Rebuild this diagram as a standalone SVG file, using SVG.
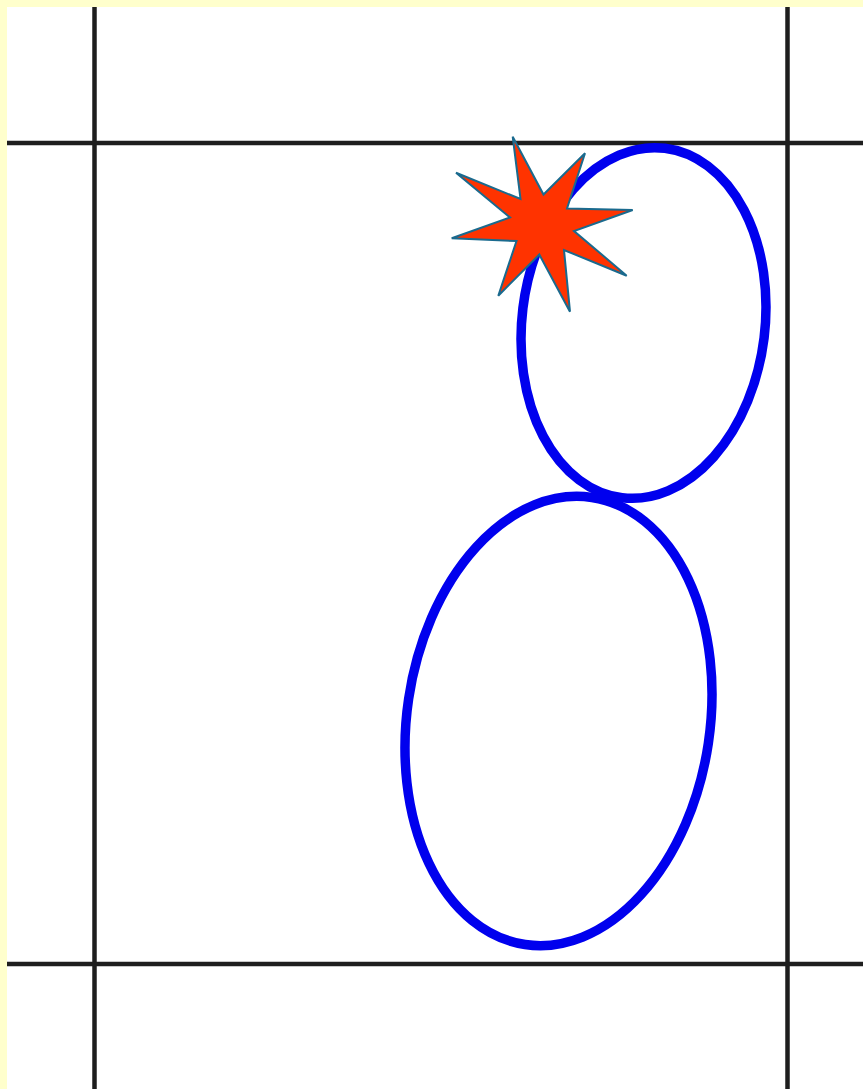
<svg xmlns="http://www.w3.org/2000/svg" width="863" height="1089" viewBox="0 0 863 1089">
<style>
.grid{stroke:#1e1e1e;stroke-width:4.5;fill:none}
.loop{fill:none;stroke:#0000ee;stroke-width:9.5}
.star{fill:#ff3300;stroke:#1a6a8e;stroke-width:2;stroke-linejoin:miter}
</style>
<rect x="0" y="0" width="863" height="1089" fill="#ffffcc"/>
<rect x="7" y="7" width="856" height="1082" fill="#ffffff"/>
<g id="grid">
<line class="grid" x1="94.5" y1="7" x2="94.5" y2="1089"/>
<line class="grid" x1="787.5" y1="7" x2="787.5" y2="1089"/>
<line class="grid" x1="7" y1="143" x2="863" y2="143"/>
<line class="grid" x1="7" y1="964" x2="863" y2="964"/>
</g>
<g id="lower-loop">
<ellipse class="loop" cx="558.5" cy="721" rx="151.5" ry="226" transform="rotate(8.5 558.5 721)"/>
</g>
<g id="upper-loop">
<ellipse class="loop" cx="643.5" cy="323" rx="121.5" ry="176" transform="rotate(7 643.5 323)"/>
</g>
<g id="star">
<polygon class="star" points="512.7,136.7 543.5,194.5 585,153.3 567,208.5 632.7,210 574,231 626.7,275.7 564,250 570,311.7 539.3,254.5 498.3,295.7 516.5,241 451.7,238.3 510,217.5 456,172.7 520.5,199"/>
</g>
</svg>
